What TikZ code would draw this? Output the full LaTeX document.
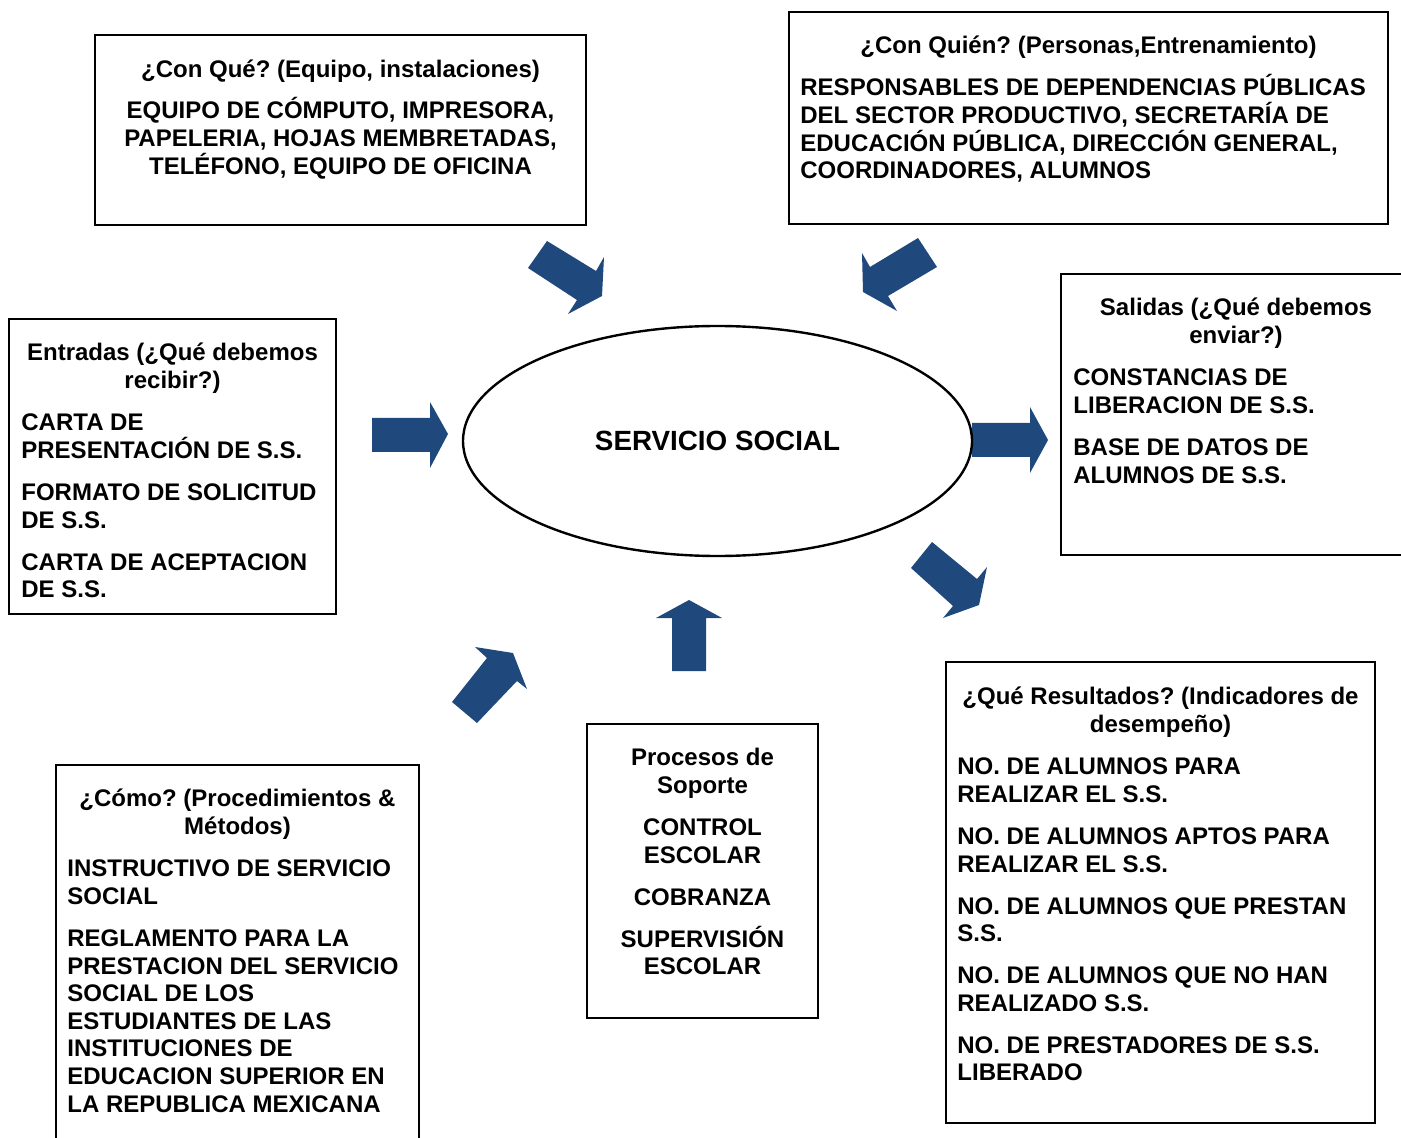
\documentclass[tikz,border=0pt]{standalone}
\usepackage{fontspec}
\setmainfont{Liberation Sans}
\usetikzlibrary{fit,shapes.geometric}
\definecolor{arrowblue}{HTML}{1F497D}
\newcommand{\fst}{\rule{0pt}{11pt}}
\frenchspacing
\begin{document}
\begin{tikzpicture}[x=0.5pt,y=-0.5pt,
  box/.style={draw=black, line width=1.2pt, inner sep=0pt},
  txt/.style={inner sep=0pt, font=\fontsize{12}{13.8}\selectfont\bfseries},
  ctxt/.style={txt, align=center, anchor=north},
  ltxt/.style={txt, align=left, anchor=north west},
  blockarrow/.style={fill=arrowblue, draw=none}]
\useasboundingbox (0,0) rectangle (1401,1138);

% boxes
\node[box, fit={(95,35) (586,225)}] (conque) {};
\node[box, fit={(789,12) (1388,224)}] (conquien) {};
\node[box, fit={(9,319) (336,614)}] (entradas) {};
\node[box, fit={(1061,274) (1404,555)}] (salidas) {};
\node[box, fit={(946,662) (1375,1123)}] (resultados) {};
\node[box, fit={(587,724) (818,1018)}] (procesos) {};
\node[box, fit={(56,765) (419,1142)}] (como) {};

% block arrows
\fill[blockarrow] (528,268) -- (547,241) -- (596,271) -- (604,257) -- (602,296) -- (568,314) -- (577,300) -- cycle;
\fill[blockarrow] (862,253) -- (870,267) -- (918,238) -- (937,267) -- (888,296) -- (897,311) -- (863,292) -- cycle;
\fill[blockarrow] (372,418) -- (430,418) -- (430,402) -- (448,434) -- (430,468) -- (430,452) -- (372,452) -- cycle;
\fill[blockarrow] (972,423) -- (1030,423) -- (1030,407) -- (1048,440) -- (1030,473) -- (1030,457) -- (972,457) -- cycle;
\fill[blockarrow] (932,542) -- (977,579) -- (987,567) -- (979,605) -- (943,618) -- (953,606) -- (911,568) -- cycle;
\fill[blockarrow] (689,600) -- (722,618) -- (706,618) -- (706,671) -- (672,671) -- (672,618) -- (656,618) -- cycle;
\fill[blockarrow] (475,647) -- (513,653) -- (527,689) -- (517,681) -- (477,723) -- (452,702) -- (487,658) -- cycle;

% central ellipse
\node[ellipse, draw=black, line width=1.2pt, minimum width=254.5pt, minimum height=115pt,
      inner sep=0pt, font=\fontsize{13.9}{16}\selectfont\bfseries] (servicio) at (717.5,441) {SERVICIO SOCIAL};

% texts
\node[ctxt] (t-conque) at (340.5,55.5) {\fst¿Con Qué? (Equipo, instalaciones)};
\node[ctxt] (b-conque) at (340.5,96.5) {\fst EQUIPO DE CÓMPUTO, IMPRESORA,\\PAPELERIA, HOJAS MEMBRETADAS,\\TELÉFONO, EQUIPO DE OFICINA};

\node[ctxt] (t-conquien) at (1088.5,31.5) {\fst¿Con Quién? (Personas,Entrenamiento)};
\node[ltxt] (b-conquien) at (800,73.5) {\fst RESPONSABLES DE DEPENDENCIAS PÚBLICAS\\DEL SECTOR PRODUCTIVO, SECRETARÍA DE\\EDUCACIÓN PÚBLICA, DIRECCIÓN GENERAL,\\COORDINADORES, ALUMNOS};

\node[ctxt] (t-entradas) at (172.5,338.5) {\fst Entradas (¿Qué debemos\\recibir?)};
\node[ltxt] (b-entradas) at (21,408.5) {\fst CARTA DE\\PRESENTACIÓN DE S.S.\\[7.2pt]FORMATO DE SOLICITUD\\DE S.S.\\[7.2pt]CARTA DE ACEPTACION\\DE S.S.};

\node[ctxt] (t-salidas) at (1236,293.5) {\fst Salidas (¿Qué debemos\\enviar?)};
\node[ltxt] (b-salidas) at (1073,363.5) {\fst CONSTANCIAS DE\\LIBERACION DE S.S.\\[7.2pt]BASE DE DATOS DE\\ALUMNOS DE S.S.};

\node[ctxt] (t-resultados) at (1160.5,682.5) {\fst¿Qué Resultados? (Indicadores de\\desempeño)};
\node[ltxt] (b-resultados) at (957,752.5) {\fst NO. DE ALUMNOS PARA\\REALIZAR EL S.S.\\[7.2pt]NO. DE ALUMNOS APTOS PARA\\REALIZAR EL S.S.\\[7.2pt]NO. DE ALUMNOS QUE PRESTAN\\S.S.\\[7.2pt]NO. DE ALUMNOS QUE NO HAN\\REALIZADO S.S.\\[7.2pt]NO. DE PRESTADORES DE S.S.\\LIBERADO};

\node[ctxt] (t-procesos) at (702.5,743.5) {\fst Procesos de\\Soporte\\[7.2pt]CONTROL\\ESCOLAR\\[7.2pt]COBRANZA\\[7.2pt]SUPERVISIÓN\\ESCOLAR};

\node[ctxt] (t-como) at (237.5,784.5) {\fst¿Cómo? (Procedimientos \&\\Métodos)};
\node[ltxt] (b-como) at (67,854.5) {\fst INSTRUCTIVO DE SERVICIO\\SOCIAL\\[7.2pt]REGLAMENTO PARA LA\\PRESTACION DEL SERVICIO\\SOCIAL DE LOS\\ESTUDIANTES DE LAS\\INSTITUCIONES DE\\EDUCACION SUPERIOR EN\\LA REPUBLICA MEXICANA};
\end{tikzpicture}
\end{document}
